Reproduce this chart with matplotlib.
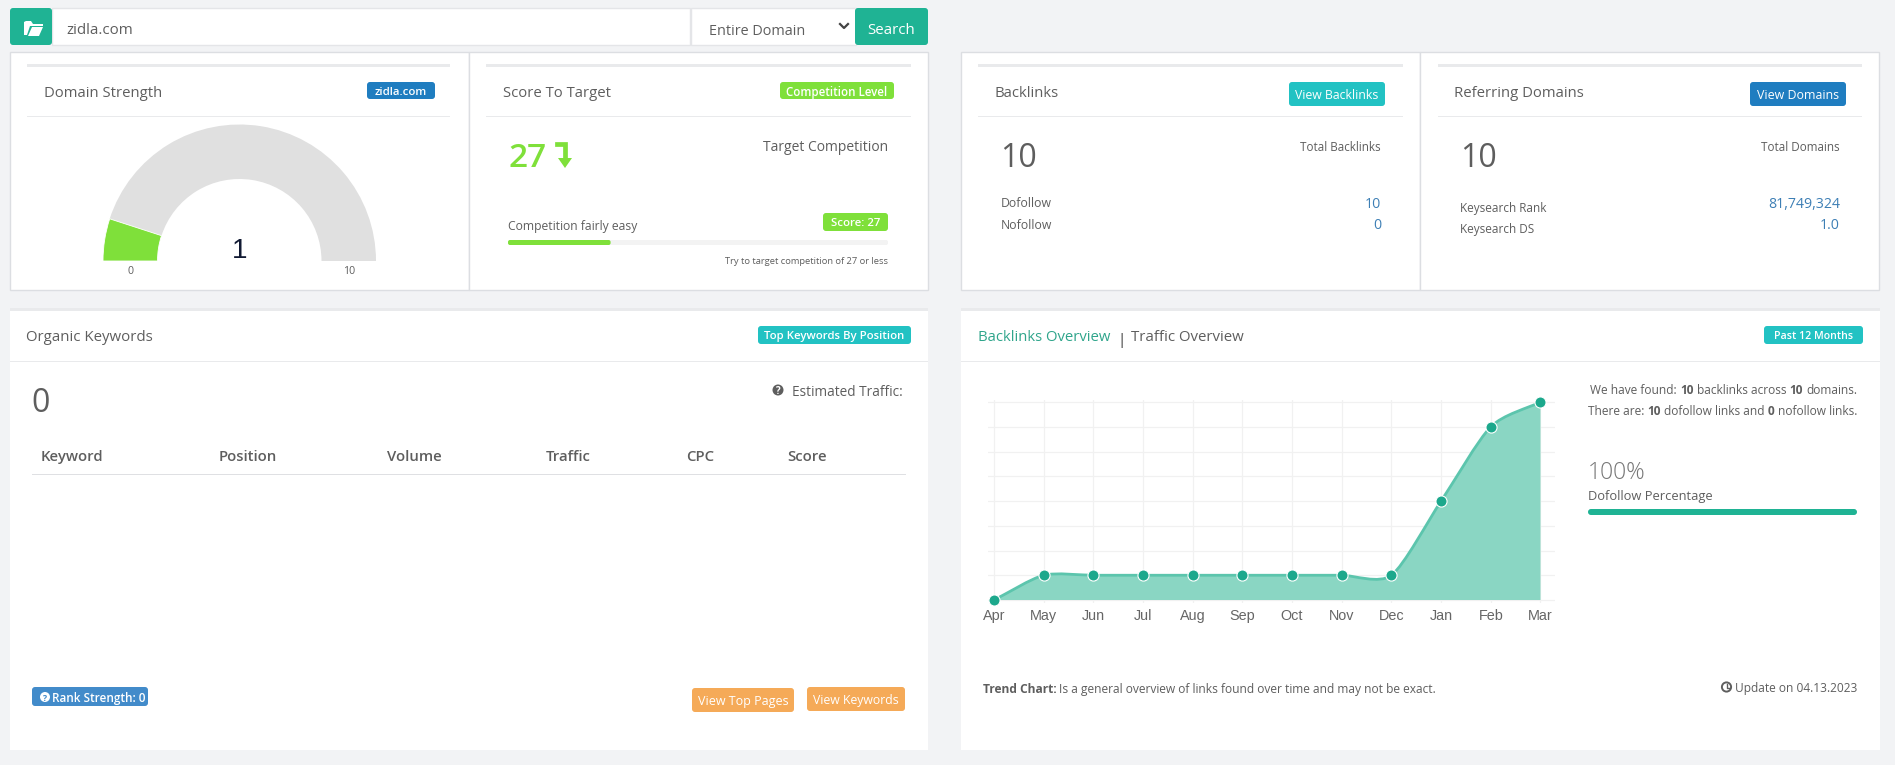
import matplotlib
matplotlib.use("Agg")
import matplotlib.pyplot as plt
from matplotlib.patches import FancyBboxPatch, Rectangle, Wedge, Circle, Polygon, PathPatch
from matplotlib.path import Path

W, H = 1895, 765

plt.rcParams["font.family"] = ["Open Sans", "DejaVu Sans"]

months = ["Apr", "May", "Jun", "Jul", "Aug", "Sep", "Oct", "Nov", "Dec", "Jan", "Feb", "Mar"]
backlinks = [0, 1, 1, 1, 1, 1, 1, 1, 1, 4, 7, 8]
gauge_value = 1
gauge_max = 10
competition_score = 27
table_headers = ["Keyword", "Position", "Volume", "Traffic", "CPC", "Score"]
table_header_x = [41, 219, 387, 546, 686, 787]

BG = "#f2f3f5"
BORDER = "#dcdee2"
TEXT = "#5e5e5e"
TEAL = "#1fb394"
GREEN = "#7fe03a"
BLUE = "#1f7dc0"
CYAN = "#22c2c3"
ORANGE = "#f5aa58"
LINK = "#3d7fb5"

fig = plt.figure(figsize=(W / 100, H / 100), dpi=100, facecolor=BG)
ax = fig.add_axes([0, 0, 1, 1])
ax.set_xlim(0, W)
ax.set_ylim(H, 0)
ax.axis("off")


def rect(x0, y0, x1, y1, color, ec="none", lw=0, z=1):
    ax.add_patch(Rectangle((x0, y0), x1 - x0, y1 - y0, fc=color, ec=ec, lw=lw, zorder=z))


def round_box(x0, y0, x1, y1, color, r=3, z=2):
    ax.add_patch(FancyBboxPatch((x0, y0), x1 - x0, y1 - y0, boxstyle=f"round,pad=0,rounding_size={r}",
                                fc=color, ec="none", zorder=z))


def label(x, y, s, size=10, color=TEXT, ha="left", weight="normal", **kw):
    return ax.text(x, y, s, fontsize=size, color=color, ha=ha, va="center_baseline", weight=weight, zorder=5, **kw)


def badge(x0, y0, x1, y1, s, color, size=8.2, weight="semibold"):
    round_box(x0, y0, x1, y1, color)
    label((x0 + x1) / 2, (y0 + y1) / 2, s, size=size, color="white", ha="center", weight=weight)


def run_width(s, size, weight):
    r = fig.canvas.get_renderer()
    a = ax.text(0, 0, "." + s + ".", fontsize=size, weight=weight)
    b = ax.text(0, 0, "..", fontsize=size, weight=weight)
    w = a.get_window_extent(r).width - b.get_window_extent(r).width
    a.remove()
    b.remove()
    return w


def runs(x, y, parts, size, ha="left", color=TEXT):
    widths = [run_width(s, size, w) for s, w in parts]
    if ha == "right":
        x -= sum(widths)
    for (s, w), dx in zip(parts, widths):
        label(x, y, s.strip(), size=size, weight=w, color=color)
        x += dx


def question(x, y, r, fc, fg):
    ax.add_patch(Circle((x, y), r, fc=fc, ec="none", zorder=5))
    label(x, y + 0.3, "?", size=r * 1.25, color=fg, ha="center", weight="bold")


# search bar
rect(52, 8, 690, 45, "white", ec="#e4e5e8", lw=1)
rect(691, 8, 856, 45, "white", ec="#e4e5e8", lw=1)
round_box(10, 8, 52, 45, TEAL)
round_box(855, 8, 928, 45, TEAL)
ax.add_patch(Polygon([(24, 22), (24, 35), (27, 35), (30, 26), (43, 26), (43, 24), (33, 24), (31, 21), (26, 21)],
                     fc="white", ec="none", zorder=5))
ax.add_patch(Polygon([(28, 36), (39, 36), (43, 27), (32, 27)], fc="white", ec="none", zorder=5))
label(66, 28, "zidla.com", size=10.8)
label(709, 29, "Entire Domain", size=10.4)
ax.plot([840, 844, 848], [24, 28, 24], color="#444444", lw=1.6, zorder=5)
label(891, 28, "Search", size=10.8, color="white", ha="center")

# top cards
for x0, x1 in [(10, 469), (469, 928), (961, 1420), (1420, 1879)]:
    rect(x0, 52, x1, 290, "white", ec=BORDER, lw=1)
for x0, x1 in [(27, 450), (486, 911), (978, 1403), (1438, 1862)]:
    rect(x0, 64, x1, 67, "#e9eaec")
    rect(x0, 116, x1, 117, "#e9eaec")

label(44, 91, "Domain Strength", size=10.7)
badge(367, 82, 435, 99, "zidla.com", BLUE)
label(503, 91, "Score To Target", size=10.7)
badge(780, 82, 894, 99, "Competition Level", GREEN, size=8.3)
label(995, 91, "Backlinks", size=10.7)
round_box(1289, 82, 1385, 106, CYAN)
label(1337, 94, "View Backlinks", size=8.8, color="white", ha="center")
label(1454, 91, "Referring Domains", size=10.7)
round_box(1750, 82, 1846, 106, BLUE)
label(1798, 94, "View Domains", size=8.9, color="white", ha="center")

# gauge
gauge_ax = fig.add_axes([103 / W, 1 - 261 / H, 273 / W, 137 / H])
gauge_ax.set_xlim(-136.5, 136.5)
gauge_ax.set_ylim(0, 137)
gauge_ax.axis("off")
split = 180 - 180 * gauge_value / gauge_max
gauge_ax.add_patch(Wedge((0, 0), 136.5, 0, split, width=54.5, fc="#e0e0e0", ec="none"))
gauge_ax.add_patch(Wedge((0, 0), 136.5, split, 180, width=54.5, fc=GREEN, ec="white", lw=0.6))
label(240, 248, str(gauge_value), size=20, color="#111a33", ha="center", family="Liberation Sans")
label(130, 270, "0", size=7.6, ha="center")
label(349, 270, str(gauge_max), size=7.6, ha="center")

# score panel
label(509, 154, str(competition_score), size=24, color=GREEN, weight="semibold")
ax.plot([557, 565, 565], [144, 144, 160], color=GREEN, lw=3.4, solid_joinstyle="miter", zorder=5)
ax.add_patch(Polygon([(558, 158), (572, 158), (565, 168)], fc=GREEN, ec="none", zorder=5))
label(888, 145, "Target Competition", size=10, ha="right")
label(508, 225, "Competition fairly easy", size=8.7)
badge(823, 213, 888, 231, f"Score: {competition_score}", GREEN, size=8.2)
round_box(508, 240, 888, 245, "#f3f3f3", r=2)
round_box(508, 240, 508 + 380 * competition_score / 100, 245, GREEN, r=2, z=3)
label(888, 260, f"Try to target competition of {competition_score} or less", size=6.75, ha="right")

# backlinks + domains panels
label(1000, 154, "10", size=23, weight="medium")
label(1381, 146, "Total Backlinks", size=8.4, ha="right")
label(1001, 202, "Dofollow", size=8.8)
label(1001, 224, "Nofollow", size=8.8)
label(1381, 202, "10", size=10.2, color=LINK, ha="right")
label(1381, 223, "0", size=10.2, color=LINK, ha="right")
label(1460, 154, "10", size=23, weight="medium")
label(1840, 146, "Total Domains", size=8.4, ha="right")
label(1460, 207, "Keysearch Rank", size=8.5)
label(1460, 228, "Keysearch DS", size=8.5)
label(1840, 202, "81,749,324", size=10.2, color=LINK, ha="right")
label(1840, 223, "1.0", size=10.2, color=LINK, ha="right")

# bottom cards
for x0, x1 in [(10, 928), (961, 1880)]:
    rect(x0, 308, x1, 311, "#e9eaec")
    rect(x0, 311, x1, 750, "white")
    rect(x0, 361, x1, 362, "#e9eaec")

label(26, 335, "Organic Keywords", size=10.8)
badge(758, 326, 911, 344, "Top Keywords By Position", CYAN)
label(31, 399, "0", size=23, weight="medium")
question(778, 390, 5.5, "#5e5e5e", "white")
label(903, 390, "Estimated Traffic:", size=9.85, ha="right")
for hx, hname in zip(table_header_x, table_headers):
    label(hx, 455, hname, size=10.7, weight="semibold")
rect(32, 474, 906, 475, "#dfe0e3")
round_box(32, 687, 148, 706, "#428bca")
question(45, 697, 5, "white", "#428bca")
label(52, 697, "Rank Strength: 0", size=8.5, color="white", weight="semibold")
round_box(692, 688, 794, 712, ORANGE)
label(743, 700, "View Top Pages", size=9, color="white", ha="center")
round_box(807, 687, 905, 711, ORANGE)
label(856, 699, "View Keywords", size=8.8, color="white", ha="center")

label(978, 335, "Backlinks Overview", size=10.7, color="#2fa58b", weight="medium")
label(1117, 338, "|", size=10.7, color="#333333")
label(1131, 335, "Traffic Overview", size=10.8)
badge(1764, 326, 1863, 344, "Past 12 Months", CYAN, size=7.7)

# trend chart, Apr sits at 994px, Mar at 1540.5px, 0 at 600px, 8 at 402px
chart = fig.add_axes([988 / W, 1 - 603 / H, 567 / W, 203 / H])
chart.patch.set_alpha(0)
step = (1540.5 - 994) / 11
chart.set_xlim(-6 / step, 11 + 14.5 / step)
chart.set_ylim(-3 / 24.75, 8 + 2 / 24.75)
for s in chart.spines.values():
    s.set_visible(False)
xs = list(range(len(months)))
chart.set_xticks(xs)
chart.set_xticklabels(months, fontfamily="Liberation Sans", fontsize=10.4, color="#666666")
chart.set_yticks(range(0, 9))
chart.set_yticklabels([])
chart.tick_params(length=0, pad=4)
chart.grid(True, color="#f1f1f1", lw=0.9)
chart.set_axisbelow(True)

# smooth line through the monthly values, tangents taken from neighbours
grads = []
for i in xs:
    a, b = max(i - 1, 0), min(i + 1, len(xs) - 1)
    grads.append((backlinks[b] - backlinks[a]) / (xs[b] - xs[a]))
verts = [(xs[0], backlinks[0])]
codes = [Path.MOVETO]
for i in xs[1:]:
    verts += [(i - 0.75, backlinks[i - 1] + 0.25 * grads[i - 1]), (i - 0.25, backlinks[i] - 0.25 * grads[i]),
              (i, backlinks[i])]
    codes += [Path.CURVE4] * 3
fill_verts = verts + [(xs[-1], 0), (xs[0], 0), (xs[0], backlinks[0])]
fill_codes = codes + [Path.LINETO, Path.LINETO, Path.CLOSEPOLY]
chart.add_patch(PathPatch(Path(fill_verts, fill_codes), fc="#8ad6c3", ec="none", zorder=2))
chart.add_patch(PathPatch(Path(verts, codes), fc="none", ec="#5cc5ad", lw=2, zorder=3))
chart.plot(xs, backlinks, "o", ms=8, mfc="#1ca88c", mec="white", mew=0.8, zorder=4, clip_on=False)

# right column
runs(1857, 389, [("We have found: ", "normal"), ("10 ", "bold"), ("backlinks across ", "normal"), ("10 ", "bold"),
                 ("domains.", "normal")], 8.6, ha="right")
runs(1857, 410, [("There are: ", "normal"), ("10 ", "bold"), ("dofollow links and ", "normal"), ("0 ", "bold"),
                 ("nofollow links.", "normal")], 8.6, ha="right")
label(1588, 470, "100%", size=16.6, color="#777777", weight="light")
label(1588, 495, "Dofollow Percentage", size=9.3)
round_box(1588, 509, 1857, 515, TEAL, r=3)

runs(983, 688, [("Trend Chart: ", "bold"), ("Is a general overview of links found over time and may not be exact.", "normal")], 8.65)
ax.add_patch(Circle((1726.5, 687), 4.6, fc="none", ec=TEXT, lw=1.4, zorder=5))
ax.plot([1726.5, 1726.5, 1729], [684, 687.5, 687.5], color=TEXT, lw=1, zorder=5)
label(1857, 687, "Update on 04.13.2023", size=8.6, ha="right")

fig.savefig("out.png", dpi=100, facecolor=BG)
